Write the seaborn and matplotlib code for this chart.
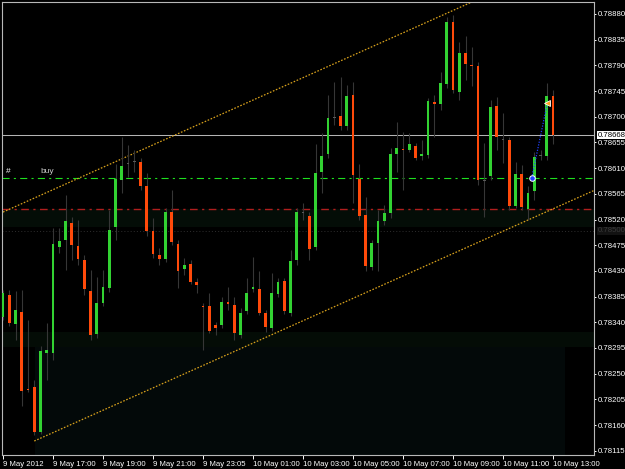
import numpy as np
import pandas as pd
import matplotlib
matplotlib.use("Agg")
import matplotlib.pyplot as plt
import matplotlib.transforms as mtransforms
import seaborn as sns

# ---------------- data (M15 candles) ----------------
opens = [0.78349, 0.78388, 0.78337, 0.78358, 0.78223, 0.78227, 0.78148, 0.78287, 0.78286, 0.78472,
         0.78484, 0.78514, 0.78474, 0.78449, 0.78395, 0.78320, 0.78373, 0.78400, 0.78507, 0.78589,
         0.78618, 0.78621, 0.78621, 0.78578, 0.78500, 0.78458, 0.78451, 0.78534, 0.78477, 0.78433,
         0.78442, 0.78411, 0.78369, 0.78368, 0.78336, 0.78335, 0.78375, 0.78371, 0.78318, 0.78359,
         0.78398, 0.78398, 0.78356, 0.78330, 0.78390, 0.78412, 0.78357, 0.78449, 0.78532, 0.78527,
         0.78472, 0.78604, 0.78635, 0.78698, 0.78701, 0.78683, 0.78738, 0.78591, 0.78528, 0.78436,
         0.78479, 0.78518, 0.78532, 0.78635, 0.78643, 0.78642, 0.78649, 0.78631, 0.78633, 0.78726,
         0.78722, 0.78757, 0.78866, 0.78744, 0.78812, 0.78791, 0.78789, 0.78588, 0.78596, 0.78719,
         0.78660, 0.78659, 0.78544, 0.78600, 0.78538, 0.78570, 0.78632, 0.78631, 0.78736]
highs = [0.78397, 0.78397, 0.78395, 0.78397, 0.78344, 0.78239, 0.78298, 0.78339, 0.78505, 0.78505,
         0.78563, 0.78525, 0.78519, 0.78458, 0.78432, 0.78420, 0.78432, 0.78537, 0.78618, 0.78665,
         0.78650, 0.78642, 0.78628, 0.78601, 0.78523, 0.78470, 0.78540, 0.78572, 0.78484, 0.78453,
         0.78449, 0.78418, 0.78374, 0.78391, 0.78340, 0.78385, 0.78402, 0.78385, 0.78365, 0.78417,
         0.78455, 0.78429, 0.78362, 0.78426, 0.78418, 0.78418, 0.78467, 0.78540, 0.78549, 0.78533,
         0.78653, 0.78671, 0.78738, 0.78761, 0.78769, 0.78756, 0.78760, 0.78618, 0.78560, 0.78484,
         0.78537, 0.78545, 0.78645, 0.78691, 0.78674, 0.78672, 0.78654, 0.78659, 0.78733, 0.78738,
         0.78779, 0.78875, 0.78878, 0.78831, 0.78841, 0.78823, 0.78796, 0.78654, 0.78729, 0.78735,
         0.78707, 0.78664, 0.78621, 0.78615, 0.78578, 0.78639, 0.78642, 0.78759, 0.78747]
lows = [0.78344, 0.78334, 0.78309, 0.78193, 0.78218, 0.78143, 0.78144, 0.78239, 0.78274, 0.78461,
        0.78432, 0.78449, 0.78440, 0.78388, 0.78309, 0.78313, 0.78369, 0.78393, 0.78484, 0.78566,
        0.78595, 0.78603, 0.78572, 0.78491, 0.78453, 0.78440, 0.78446, 0.78475, 0.78400, 0.78423,
        0.78407, 0.78391, 0.78291, 0.78321, 0.78318, 0.78330, 0.78362, 0.78309, 0.78313, 0.78355,
        0.78393, 0.78353, 0.78323, 0.78325, 0.78384, 0.78355, 0.78351, 0.78440, 0.78519, 0.78449,
        0.78467, 0.78566, 0.78628, 0.78686, 0.78677, 0.78677, 0.78549, 0.78519, 0.78429, 0.78432,
        0.78429, 0.78510, 0.78523, 0.78604, 0.78572, 0.78638, 0.78624, 0.78624, 0.78628, 0.78664,
        0.78712, 0.78750, 0.78742, 0.78729, 0.78764, 0.78753, 0.78580, 0.78524, 0.78589, 0.78642,
        0.78619, 0.78537, 0.78540, 0.78537, 0.78519, 0.78554, 0.78624, 0.78624, 0.78653]
closes = [0.78392, 0.78339, 0.78362, 0.78220, 0.78222, 0.78147, 0.78290, 0.78291, 0.78477, 0.78483,
          0.78517, 0.78475, 0.78450, 0.78398, 0.78318, 0.78373, 0.78401, 0.78502, 0.78591, 0.78614,
          0.78618, 0.78621, 0.78579, 0.78500, 0.78460, 0.78451, 0.78533, 0.78481, 0.78430, 0.78440,
          0.78411, 0.78406, 0.78367, 0.78325, 0.78330, 0.78376, 0.78372, 0.78322, 0.78357, 0.78391,
          0.78401, 0.78357, 0.78332, 0.78391, 0.78411, 0.78359, 0.78447, 0.78533, 0.78532, 0.78468,
          0.78602, 0.78632, 0.78698, 0.78698, 0.78683, 0.78736, 0.78598, 0.78527, 0.78439, 0.78478,
          0.78517, 0.78531, 0.78635, 0.78645, 0.78642, 0.78652, 0.78628, 0.78635, 0.78727, 0.78722,
          0.78759, 0.78866, 0.78747, 0.78812, 0.78792, 0.78789, 0.78589, 0.78588, 0.78717, 0.78664,
          0.78660, 0.78544, 0.78600, 0.78542, 0.78567, 0.78630, 0.78632, 0.78736, 0.78668]

time_tick_bars = [0, 8, 16, 24, 32, 40, 48, 56, 64, 72, 80, 88]
time_tick_labels = ["9 May 2012", "9 May 17:00", "9 May 19:00", "9 May 21:00", "9 May 23:05",
                    "10 May 01:00", "10 May 03:00", "10 May 05:00", "10 May 07:00",
                    "10 May 09:00", "10 May 11:00", "10 May 13:00"]
price_ticks = [0.78880, 0.78835, 0.78790, 0.78745, 0.78700, 0.78655, 0.78610, 0.78565, 0.78520,
               0.78475, 0.78430, 0.78385, 0.78340, 0.78295, 0.78250, 0.78205, 0.78160, 0.78115]

bid_price = 0.78668
buy_level = 0.78593
red_level = 0.78538
dotted_level = 0.78500
zone1 = [0.78507, 0.78538]
zone2 = [0.78297, 0.78323]
rect_bars = [5.1, 89.9]

upper_x = [0, 95]
upper_y = [0.78533, 0.78999]
lower_x = [5, 95]
lower_y = [0.78132, 0.78573]

trade_x = [84.6, 87.1]
trade_y = [0.78593, 0.78724]

# ---------------- style ----------------
sns.set_theme(style="dark", rc={"axes.facecolor": "black", "figure.facecolor": "black"})
plt.rcParams["font.family"] = ["Liberation Sans", "DejaVu Sans"]

fig = plt.figure(figsize=(6.25, 4.69), dpi=100)
ax = fig.add_axes([2 / 625, 14 / 469, 592 / 625, 453 / 469])
ax.set_facecolor("black")

n = len(opens)
idx = np.arange(n)
df = pd.DataFrame({"i": idx, "o": opens, "h": highs, "l": lows, "c": closes})

xmin, xmax = -0.16, 94.56
ymin, ymax = 0.781075, 0.789010

# zones
ax.axhspan(zone1[0], zone1[1], color="#040d07", zorder=0, lw=0)
ax.axhspan(zone2[0], zone2[1], color="#040c06", zorder=0, lw=0)
ax.fill_between(rect_bars, [ymin, ymin], [zone2[0], zone2[0]], color="#030909", zorder=0, lw=0)

# horizontal lines
ax.axhline(bid_price, color="#b4b4b4", lw=0.75, zorder=1)
ax.axhline(dotted_level, color="#2a2a2a", lw=0.75, ls=(0, (1, 2)), zorder=1)
ax.axhline(buy_level, color="#1ee01e", lw=0.8, ls=(0, (6.4, 3.8, 1.9, 3.8)), zorder=1)
ax.axhline(red_level, color="#b01e1e", lw=1.0, ls=(0, (5.5, 3.2, 1.6, 3.2)), zorder=1)

# channel lines
sns.lineplot(x=upper_x, y=upper_y, ax=ax, color="#d9a21c", lw=0.9, linestyle=(0, (1.3, 1.3)), zorder=2)
sns.lineplot(x=lower_x, y=lower_y, ax=ax, color="#d9a21c", lw=0.9, linestyle=(0, (1.3, 1.3)), zorder=2)

# candles: wicks
ax.vlines(df["i"], df["l"], df["h"], color="#363636", lw=0.8, zorder=3)
# bodies
pt = 1.0 / 57090
bottoms = np.minimum(df["o"], df["c"])
heights = np.maximum(np.abs(df["c"] - df["o"]), pt)
cols = np.where(df["c"] > df["o"], "#32d232", np.where(df["c"] < df["o"], "#ff4a0a", "#5a5a5a"))
ax.bar(df["i"], heights, bottom=bottoms, width=0.42, color=cols, lw=0, zorder=4)

# trade line
ax.plot(trade_x, trade_y, color="#2040ff", lw=0.9, ls=(0, (1, 1.2)), zorder=5)
ax.plot(trade_x[0], trade_y[0], marker="o", ms=4, mfc="#2040ff", mec="white", mew=0.7, zorder=6)
ax.plot(trade_x[1], trade_y[1], marker="<", ms=4.5, mfc="#ffa020", mec="white", mew=0.6, zorder=6)

# labels on line
ax.text(0.45, buy_level + 0.000045, "#", color="white", fontsize=6, ha="left", va="bottom", zorder=6)
ax.text(6.0, buy_level + 0.000045, "buy", color="#c8c8c8", fontsize=6, ha="left", va="bottom", zorder=6)

# axes
ax.set_xlim(xmin, xmax)
ax.set_ylim(ymin, ymax)
ax.yaxis.tick_right()
ax.set_yticks(price_ticks)
ax.set_yticklabels([f"{p:.5f}" for p in price_ticks])
ax.set_xticks(time_tick_bars)
ax.set_xticklabels(time_tick_labels, ha="left")
ax.tick_params(axis="x", colors="white", length=3, width=0.7, pad=1.5, labelsize=5.6, direction="out", bottom=True)
ax.tick_params(axis="y", colors="white", length=1.5, width=0.7, pad=1.5, labelsize=5.6, direction="out", right=True, left=False)
for lbl in ax.get_xticklabels():
    lbl.set_color("white")
for lbl in ax.get_yticklabels():
    lbl.set_color("white")
ax.set_xlabel("")
ax.set_ylabel("")
ax.grid(False)
for s in ax.spines.values():
    s.set_visible(True)
    s.set_color("#b8b8b8")
    s.set_linewidth(0.8)

trans = mtransforms.blended_transform_factory(ax.transAxes, ax.transData)
ax.text(1.0 + 4 / 592, bid_price, f"{bid_price:.5f}", transform=trans, color="black", fontsize=5.6,
        ha="left", va="center", zorder=10, clip_on=False,
        bbox=dict(facecolor="white", edgecolor="none", pad=0.6))
ax.text(1.0 + 4 / 592, dotted_level, f"{dotted_level:.5f}", transform=trans, color="#3a3a3a", fontsize=5.6,
        ha="left", va="center", zorder=10, clip_on=False,
        bbox=dict(facecolor="#121212", edgecolor="none", pad=0.6))

fig.savefig("out.png", dpi=100, facecolor="black")
